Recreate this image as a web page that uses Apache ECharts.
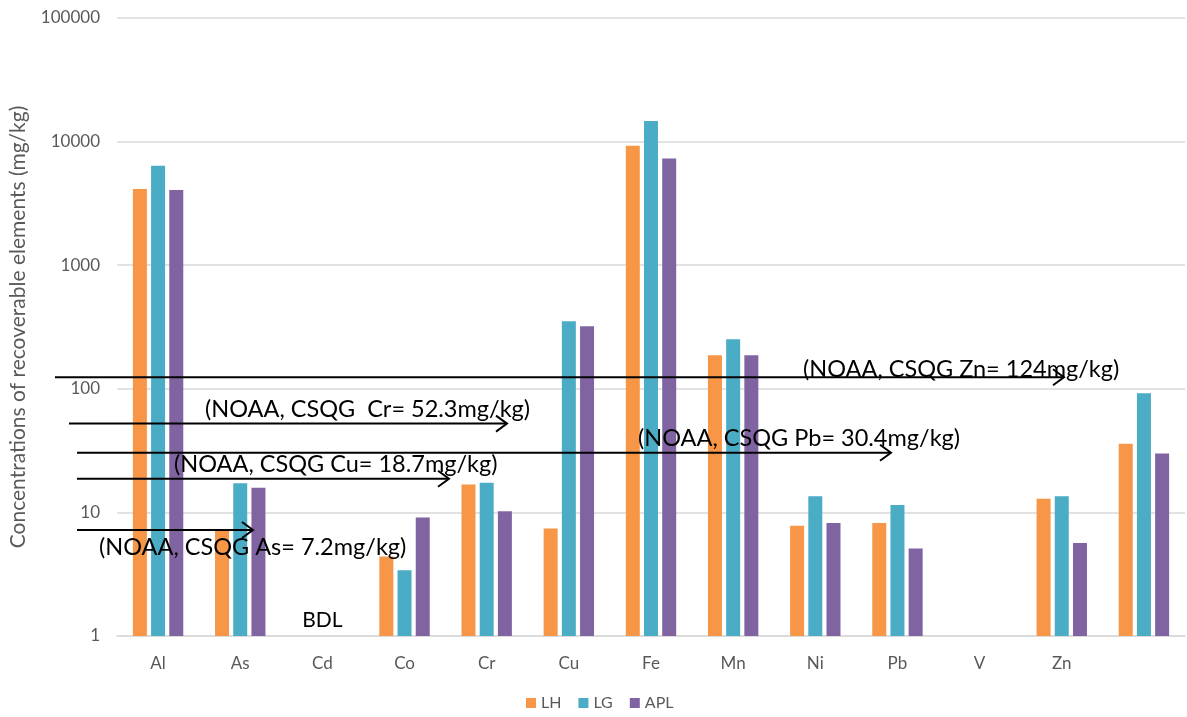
<!DOCTYPE html>
<html>
<head>
<meta charset="utf-8">
<script src="https://cdn.jsdelivr.net/npm/echarts@6/dist/echarts.min.js"></script>
<style>
  html, body { margin: 0; padding: 0; background: #ffffff; }
  #chart { width: 1187px; height: 717px; }
</style>
</head>
<body>
<div id="chart"></div>
<script>
// Element categories (last slot is an unlabeled group)
const categories = ['Al', 'As', 'Cd', 'Co', 'Cr', 'Cu', 'Fe', 'Mn', 'Ni', 'Pb', 'V', 'Zn', ''];

// Recoverable element concentrations (mg/kg); null = below detection / not reported
const seriesLH  = [4130, 7.3, null, 4.4, 16.8, 7.4, 9270, 187, 7.8, 8.2, null, 12.9, 36];
const seriesLG  = [6380, 17.2, null, 3.4, 17.4, 352, 14650, 252, 13.5, 11.5, null, 13.5, 92];
const seriesAPL = [4055, 15.8, null, 9.1, 10.2, 321, 7310, 187, 8.2, 5.1, null, 5.65, 30];

// Sediment quality guideline thresholds (NOAA, CSQG), mg/kg
const guideNames  = ['Zn', 'Cr', 'Pb', 'Cu', 'As'];
const guideValues = [124, 52.3, 30.4, 18.7, 7.2];
const guideLabels = [
  '(NOAA, CSQG Zn= 124mg/kg)',
  '(NOAA, CSQG  Cr= 52.3mg/kg)',
  '(NOAA, CSQG Pb= 30.4mg/kg)',
  '(NOAA, CSQG Cu= 18.7mg/kg)',
  '(NOAA, CSQG As= 7.2mg/kg)'
];

// Arrow extents and label placement (pixels)
const arrowLayout = {
  Zn: { x0: 55, x1: 1064, tx: 803, dy: -8 },
  Cr: { x0: 69, x1: 507, tx: 205, dy: -14 },
  Pb: { x0: 77, x1: 891, tx: 638, dy: -14 },
  Cu: { x0: 77, x1: 449, tx: 174, dy: -14 },
  As: { x0: 77, x1: 253, tx: 99, dy: 17 }
};

const FONT = 'Lato, "Open Sans", sans-serif';
const GRAY = '#595959';
const COLORS = ['#F79646', '#4BACC6', '#8064A2'];

const chart = echarts.init(document.getElementById('chart'), null, { renderer: 'canvas' });

function barSeries(name, data, color) {
  return {
    name: name,
    type: 'bar',
    data: data,
    barWidth: 14,
    barGap: '30%',
    itemStyle: { color: color },
    emphasis: { disabled: true }
  };
}

chart.setOption({
  animation: false,
  color: COLORS,
  grid: { left: 116, right: 2, top: 18, bottom: 81 },
  legend: {
    top: 690,
    left: 521,
    icon: 'rect',
    itemWidth: 10,
    itemHeight: 10,
    itemGap: 17,
    textStyle: { color: GRAY, fontSize: 16, fontFamily: FONT },
    data: ['LH', 'LG', 'APL']
  },
  xAxis: {
    type: 'category',
    data: categories,
    axisTick: { show: false },
    axisLine: { lineStyle: { color: '#d9d9d9', width: 1.5 } },
    axisLabel: { interval: 0, color: GRAY, fontSize: 17, fontFamily: FONT, margin: 19 }
  },
  yAxis: {
    type: 'log',
    logBase: 10,
    min: 1,
    max: 100000,
    name: 'Concentrations of recoverable elements (mg/kg)',
    nameLocation: 'middle',
    nameGap: 88,
    nameTextStyle: { color: GRAY, fontSize: 21, fontFamily: FONT },
    axisLine: { show: false },
    axisTick: { show: false },
    axisLabel: {
      color: GRAY, fontSize: 17, fontFamily: FONT, margin: 17,
      formatter: v => String(Math.round(v))
    },
    splitLine: { lineStyle: { color: '#d9d9d9', width: 1.5 } }
  },
  series: [
    barSeries('LH', seriesLH, COLORS[0]),
    barSeries('LG', seriesLG, COLORS[1]),
    barSeries('APL', seriesAPL, COLORS[2])
  ]
});

// Guideline arrows and annotation text, positioned through the y scale
const graphics = [];
guideNames.forEach((el, i) => {
  const lay = arrowLayout[el];
  const y = chart.convertToPixel({ yAxisIndex: 0 }, guideValues[i]);
  graphics.push({
    type: 'line',
    shape: { x1: lay.x0, y1: y, x2: lay.x1, y2: y },
    style: { stroke: '#000', lineWidth: 2 },
    z: 100
  });
  graphics.push({
    type: 'polyline',
    shape: { points: [[lay.x1 - 11, y - 8], [lay.x1, y], [lay.x1 - 11, y + 8]] },
    style: { stroke: '#000', lineWidth: 2, fill: null },
    z: 100
  });
  graphics.push({
    type: 'text',
    x: lay.tx,
    y: y + lay.dy,
    style: {
      text: guideLabels[i],
      fill: '#000',
      font: '23.5px ' + FONT,
      verticalAlign: 'middle',
      align: 'left'
    },
    z: 101
  });
});

// "BDL" marker for the Cd group
const cdX = chart.convertToPixel({ xAxisIndex: 0 }, 'Cd');
const oneY = chart.convertToPixel({ yAxisIndex: 0 }, 1);
graphics.push({
  type: 'text',
  x: cdX,
  y: oneY - 16,
  style: { text: 'BDL', fill: '#000', font: '21px ' + FONT, align: 'center', verticalAlign: 'middle' },
  z: 101
});

chart.setOption({ graphic: graphics });
</script>
</body>
</html>
